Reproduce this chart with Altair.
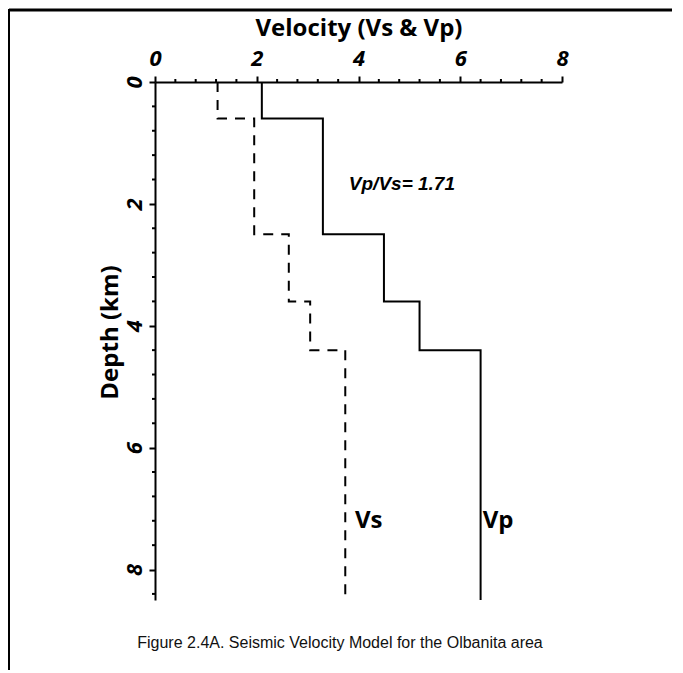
import altair as alt
import pandas as pd

# Layer boundaries (depth, km) and interval velocities (km/s)
depth_bounds = [0.0, 0.6, 2.5, 3.6, 4.4, 8.5]
vp_values = [2.1, 3.3, 4.5, 5.2, 6.4]
vs_values = [1.23, 1.95, 2.63, 3.05, 3.74]

x_major_ticks = [0, 2, 4, 6, 8]
y_major_ticks = [0, 2, 4, 6, 8]
x_minor_ticks = [0.4, 0.8, 1.2, 1.6, 2.4, 2.8, 3.2, 3.6, 4.4, 4.8, 5.2, 5.6,
                 6.4, 6.8, 7.2, 7.6]
y_minor_ticks = [0.4, 0.8, 1.2, 1.6, 2.4, 2.8, 3.2, 3.6, 4.4, 4.8, 5.2, 5.6,
                 6.4, 6.8, 7.2, 7.6, 8.4]

label_texts = ["Vs", "Vp"]
label_x = [3.93, 6.44]
label_y = [7.21, 7.21]

ratio_text = ["Vp/Vs= 1.71"]
ratio_x = [3.81]
ratio_y = [1.67]

caption = "Figure 2.4A. Seismic Velocity Model for the Olbanita area"

rows = []
for name, vals in (("Vp", vp_values), ("Vs", vs_values)):
    for i, v in enumerate(vals):
        rows.append({"series": name, "velocity": v, "depth": depth_bounds[i], "order": 2 * i})
        rows.append({"series": name, "velocity": v, "depth": depth_bounds[i + 1], "order": 2 * i + 1})
df = pd.DataFrame(rows)

x_scale = alt.Scale(domain=[0, 8], nice=False, zero=False)
y_scale = alt.Scale(domain=[0, 8.5], nice=False, zero=False, reverse=True)

x_enc = alt.X(
    "velocity:Q",
    scale=x_scale,
    axis=alt.Axis(
        orient="top", title="Velocity (Vs & Vp)", values=x_major_ticks, format="d",
        tickSize=6, labelPadding=6, labelFlush=False, labelOverlap=False,
        titlePadding=7,
    ),
)
y_enc = alt.Y(
    "depth:Q",
    scale=y_scale,
    axis=alt.Axis(
        orient="left", title="Depth (km)", values=y_major_ticks, format="d",
        tickSize=6, labelAngle=270, labelAlign="center", labelBaseline="bottom",
        labelPadding=3, labelFlush=False, labelOverlap=False,
        titlePadding=1, titleY=250,
    ),
)

lines = alt.Chart(df).mark_line(color="black", strokeWidth=2).encode(
    x=x_enc,
    y=y_enc,
    order="order:Q",
    detail="series:N",
    strokeDash=alt.StrokeDash(
        "series:N",
        scale=alt.Scale(domain=["Vp", "Vs"], range=[[1, 0], [10, 8]]),
        legend=None,
    ),
)

# minor ticks drawn through the scales
x_minor = alt.Chart(pd.DataFrame({"v": x_minor_ticks})).mark_rule(color="black", strokeWidth=2).encode(
    x=alt.X("v:Q", scale=x_scale), y=alt.value(-3), y2=alt.value(0)
)
y_minor = alt.Chart(pd.DataFrame({"d": y_minor_ticks})).mark_rule(color="black", strokeWidth=2).encode(
    y=alt.Y("d:Q", scale=y_scale), x=alt.value(-3), x2=alt.value(0)
)

labels_df = pd.DataFrame({"text": label_texts, "velocity": label_x, "depth": label_y})
labels = alt.Chart(labels_df).mark_text(
    font="Open Sans", fontWeight="bold", fontSize=24, align="left", baseline="middle", color="black"
).encode(x="velocity:Q", y="depth:Q", text="text:N")

ratio_df = pd.DataFrame({"text": ratio_text, "velocity": ratio_x, "depth": ratio_y})
ratio = alt.Chart(ratio_df).mark_text(
    font="Liberation Sans", fontWeight="bold", fontStyle="italic", fontSize=19,
    align="left", baseline="middle", color="black"
).encode(x="velocity:Q", y="depth:Q", text="text:N")

cap = alt.Chart(pd.DataFrame({"t": [caption]})).mark_text(
    font="Liberation Sans", fontSize=16, align="center", baseline="middle", color="#111"
).encode(x=alt.value(185), y=alt.value(561), text="t:N")

frame_top = alt.Chart(pd.DataFrame({"a": [0]})).mark_rule(color="black", strokeWidth=3).encode(
    x=alt.value(-146), x2=alt.value(540), y=alt.value(-72)
)
frame_left = alt.Chart(pd.DataFrame({"a": [0]})).mark_rule(color="black", strokeWidth=2).encode(
    x=alt.value(-146), y=alt.value(-73), y2=alt.value(600)
)

chart = alt.layer(frame_top, frame_left, x_minor, y_minor, lines, labels, ratio, cap).properties(
    width=407, height=518,
    padding={"left": 147, "top": 74, "right": 110, "bottom": 70},
    autosize=alt.AutoSizeParams(type="none"),
).configure_view(stroke=None).configure_axis(
    grid=False, domainColor="black", domainWidth=2, tickColor="black", tickWidth=2,
    labelColor="black", titleColor="black",
    labelFont="Open Sans", labelFontWeight="bold", labelFontStyle="italic", labelFontSize=22,
    titleFont="Open Sans", titleFontWeight="bold", titleFontSize=24,
)

chart.save("out.html", embed_options={"renderer": "svg", "actions": False})
